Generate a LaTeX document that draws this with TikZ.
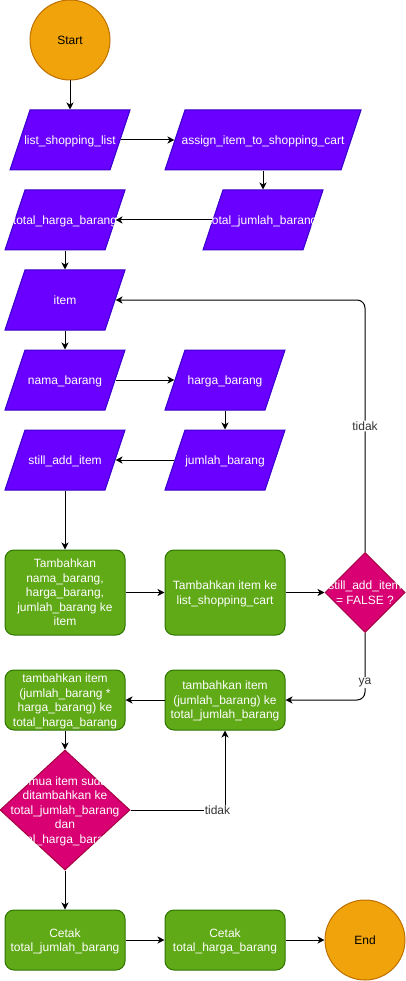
\documentclass[tikz,border=0pt]{standalone}
\usepackage{fontspec}
\setmainfont{Liberation Sans}
\usetikzlibrary{shapes.geometric,arrows.meta}
\definecolor{cviolet}{HTML}{6A00FF}
\definecolor{cvioletd}{HTML}{3700CC}
\definecolor{cgreen}{HTML}{60A917}
\definecolor{cgreend}{HTML}{2D7600}
\definecolor{cpink}{HTML}{D80073}
\definecolor{cpinkd}{HTML}{A50040}
\definecolor{corange}{HTML}{F0A30A}
\definecolor{coranged}{HTML}{BD7000}
\newcommand{\ctxt}[1]{\smash{\makebox[0pt]{\raisebox{-4.5pt}{\begin{tabular}{@{}c@{}}#1\end{tabular}}}}}
\tikzset{flow/.style={x=1pt,y=-1pt,font=\fontsize{12}{14.5}\selectfont,line width=1pt},
  io/.style={trapezium,trapezium left angle=71.57,trapezium right angle=108.43,
    trapezium stretches body,text height=30pt,text depth=30pt,minimum width=120pt,
    fill=cviolet,draw=cvioletd,text=white,inner sep=0pt},
  proc/.style={rectangle,rounded corners=9pt,minimum width=120pt,minimum height=60pt,
    fill=cgreen,draw=cgreend,text=white,inner sep=0pt},
  cond/.style={diamond,minimum width=80pt,minimum height=80pt,
    fill=cpink,draw=cpinkd,text=white,inner sep=0pt},
  term/.style={circle,minimum size=80pt,fill=corange,draw=coranged,inner sep=0pt},
  arr/.style={-{Stealth[length=7pt,width=7pt,inset=2pt]}},
  lbl/.style={fill=white,text=black!80,inner sep=1pt}}

\begin{document}
\begin{tikzpicture}[flow]
    \useasboundingbox (0,0) rectangle (406,981);
    % input / output
    \node[term] (start) at (70,40) {\ctxt{Start}};
    \node[io] (list) at (70,140) {\ctxt{list\_shopping\_list}};
    \node[io,minimum width=196pt] (assign) at (263,140) {\ctxt{assign\_item\_to\_shopping\_cart}};
    \node[io] (tj) at (263,220) {\ctxt{total\_jumlah\_barang}};
    \node[io] (th) at (65,220) {\ctxt{total\_harga\_barang}};
    \node[io] (item) at (65,300) {\ctxt{item}};
    \node[io] (nama) at (65,380) {\ctxt{nama\_barang}};
    \node[io] (harga) at (225,380) {\ctxt{harga\_barang}};
    \node[io] (jumlah) at (225,460) {\ctxt{jumlah\_barang}};
    \node[io] (still) at (65,460) {\ctxt{still\_add\_item}};
    % process
    \node[proc,minimum height=85pt] (add1) at (65,592.5)
      {\ctxt{Tambahkan\\nama\_barang,\\harga\_barang,\\jumlah\_barang ke\\item}};
    \node[proc,minimum height=85pt] (add2) at (225,592.5)
      {\ctxt{Tambahkan item ke\\list\_shopping\_cart}};
    \node[cond] (d1) at (365,592.5) {\ctxt{still\_add\_item\\= FALSE ?}};
    \node[proc] (tj2) at (225,700) {\ctxt{tambahkan item\\(jumlah\_barang) ke\\total\_jumlah\_barang}};
    \node[proc] (th2) at (65,700)
      {\ctxt{tambahkan item\\(jumlah\_barang *\\harga\_barang) ke\\total\_harga\_barang}};
    \node[cond,minimum width=130pt,minimum height=120pt] (d2) at (65,810)
      {\ctxt{semua item sudah\\ditambahkan ke\\total\_jumlah\_barang\\dan\\total\_harga\_barang}};
    \node[proc] (c1) at (65,940) {\ctxt{Cetak\\total\_jumlah\_barang}};
    \node[proc] (c2) at (225,940) {\ctxt{Cetak\\total\_harga\_barang}};
    \node[term] (endn) at (365,940) {\ctxt{End}};
    % connectors
    \draw[arr] (start) -- (list);
    \draw[arr] (list) -- (assign);
    \draw[arr] (assign) -- (tj);
    \draw[arr] (tj) -- (th);
    \draw[arr] (th) -- (item);
    \draw[arr] (item) -- (nama);
    \draw[arr] (nama) -- (harga);
    \draw[arr] (harga) -- (jumlah);
    \draw[arr] (jumlah) -- (still);
    \draw[arr] (still) -- (add1);
    \draw[arr] (add1) -- (add2);
    \draw[arr] (add2) -- (d1);
    \draw[arr,rounded corners=8pt] (d1.north) |- (item) node[lbl,pos=0.25] {tidak};
    \draw[arr,rounded corners=8pt] (d1.south) |- (tj2) node[lbl,pos=0.37] {ya};
    \draw[arr] (tj2) -- (th2);
    \draw[arr] (th2) -- (d2);
    \draw[arr] (d2.east) -| (tj2) node[lbl,pos=0.46] {tidak};
    \draw[arr] (d2) -- (c1);
    \draw[arr] (c1) -- (c2);
    \draw[arr] (c2) -- (endn);
\end{tikzpicture}
\end{document}
